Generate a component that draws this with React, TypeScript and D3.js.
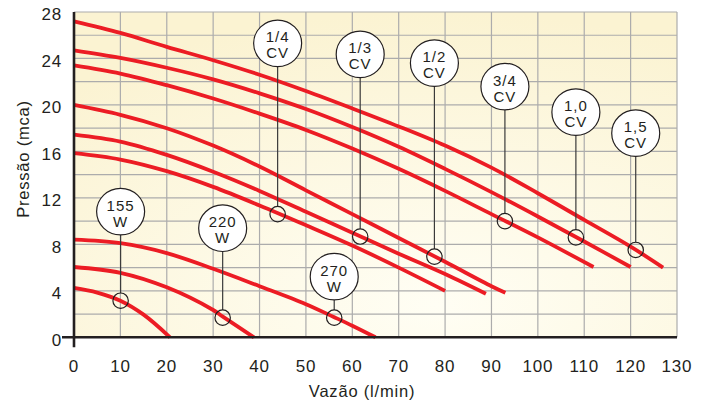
import React from "react";
import * as d3 from "d3";

// ---- data ----
const xTicks = [0, 10, 20, 30, 40, 50, 60, 70, 80, 90, 100, 110, 120, 130];
const yTicks = [0, 4, 8, 12, 16, 20, 24, 28];

const curve15CV: [number, number][] = [[0, 27.2], [10, 26.2], [20, 25.0], [30, 23.85], [40, 22.6], [50, 21.2], [60, 19.7], [70, 18.15], [80, 16.5], [90, 14.6], [100, 12.4], [110, 10.1], [120, 7.8], [127, 6.0]];
const curve10CV: [number, number][] = [[0, 24.7], [10, 24.05], [20, 23.2], [30, 22.2], [40, 21.0], [50, 19.65], [60, 18.1], [70, 16.4], [80, 14.5], [90, 12.5], [100, 10.4], [110, 8.25], [120, 6.05]];
const curve34CV: [number, number][] = [[0, 23.4], [10, 22.7], [20, 21.7], [30, 20.55], [40, 19.25], [50, 17.85], [60, 16.25], [70, 14.5], [80, 12.6], [90, 10.6], [100, 8.6], [112, 6.05]];
const curve12CV: [number, number][] = [[0, 20.0], [10, 19.15], [20, 18.0], [30, 16.5], [40, 14.7], [50, 12.65], [60, 10.6], [70, 8.55], [80, 6.5], [90, 4.4], [93, 3.84]];
const curve13CV: [number, number][] = [[0, 17.45], [10, 16.85], [20, 15.7], [30, 14.25], [40, 12.6], [50, 10.8], [60, 9.0], [70, 7.2], [80, 5.45], [88.8, 3.75]];
const curve14CV: [number, number][] = [[0, 15.85], [10, 15.3], [20, 14.3], [30, 12.95], [40, 11.35], [50, 9.65], [60, 7.9], [70, 6.0], [80, 4.0]];
const curve270W: [number, number][] = [[0, 8.4], [10, 8.1], [20, 7.25], [30, 5.9], [40, 4.4], [50, 2.85], [56, 1.75], [60, 1.0], [65, 0]];
const curve220W: [number, number][] = [[0, 6.05], [10, 5.55], [20, 4.3], [30, 2.35], [32, 1.8], [38.8, 0]];
const curve155W: [number, number][] = [[0, 4.25], [5, 3.85], [10, 3.15], [15, 1.95], [20.7, 0]];

const curves = [curve15CV, curve10CV, curve34CV, curve12CV, curve13CV, curve14CV, curve270W, curve220W, curve155W];

// label text lines, marker position and label centre (data units)
const labelTop = ["155", "220", "270", "1/4", "1/3", "1/2", "3/4", "1,0", "1,5"];
const labelBottom = ["W", "W", "W", "CV", "CV", "CV", "CV", "CV", "CV"];
const markerX = [10.05, 32.05, 56.1, 43.9, 61.7, 77.7, 92.9, 108.2, 121.1];
const markerY = [3.15, 1.69, 1.69, 10.6, 8.67, 6.94, 10.0, 8.6, 7.52];
const labelY = [10.82, 9.39, 5.22, 25.3, 24.35, 23.6, 21.58, 19.38, 17.57];

const xTitle = "Vazão (l/min)";
const yTitle = "Pressão (mca)";

export default function App() {
  const W = 710, H = 401;
  const x = d3.scaleLinear().domain([0, 130]).range([74, 677]);
  const y = d3.scaleLinear().domain([0, 28]).range([337.3, 12]);
  const line = d3.line<[number, number]>().x(d => x(d[0])).y(d => y(d[1])).curve(d3.curveCatmullRom.alpha(0.5));
  const xGrid = d3.range(0, 131, 10);
  const yGrid = d3.range(0, 29, 2);
  const font = "'Liberation Sans', Arial, Helvetica, sans-serif";
  const ink = "#231f20";
  const rx = 24, ry = 23.3, mr = 7.7;

  return (
    <svg width={W} height={H} style={{ position: "absolute", left: 0, top: 0, display: "block", background: "#fff" }} fontFamily={font}>
      <defs>
        <radialGradient id="bg" cx="0.6" cy="0.9" r="0.9">
          <stop offset="0" stopColor="#fffef4" />
          <stop offset="1" stopColor="#fbf3d2" />
        </radialGradient>
      </defs>
      <rect x={x(0)} y={y(28)} width={x(130) - x(0)} height={y(0) - y(28)} fill="url(#bg)" />
      {yGrid.map(v => (
        <line key={"gy" + v} x1={x(0)} x2={x(130)} y1={y(v)} y2={y(v)} stroke="#acacac" strokeWidth={1.2} />
      ))}
      {xGrid.map(v => (
        <line key={"gx" + v} x1={x(v)} x2={x(v)} y1={y(0)} y2={y(28)} stroke="#acacac" strokeWidth={1.2} />
      ))}
      {curves.map((c, i) => (
        <path key={"c" + i} d={line(c) || ""} fill="none" stroke="#ec1c24" strokeWidth={3.8} strokeLinecap="butt" />
      ))}
      {labelTop.map((t, i) => {
        const cx = x(markerX[i]);
        const cy = y(labelY[i]);
        const my = y(markerY[i]);
        return (
          <g key={"l" + i}>
            <line x1={cx} x2={cx} y1={cy + ry} y2={my - mr} stroke="#3a3a3a" strokeWidth={1.2} />
            <circle cx={cx} cy={my} r={mr} fill="none" stroke={ink} strokeWidth={1.2} />
            <ellipse cx={cx} cy={cy} rx={rx} ry={ry} fill="#fff" stroke={ink} strokeWidth={1.2} />
            <text x={cx} y={cy - 1} textAnchor="middle" fontSize={15} fill={ink} letterSpacing={1}>{t}</text>
            <text x={cx} y={cy + 15} textAnchor="middle" fontSize={15} fill={ink} letterSpacing={1}>{labelBottom[i]}</text>
          </g>
        );
      })}
      <line x1={x(0)} x2={x(0)} y1={y(28)} y2={y(0) + 10} stroke={ink} strokeWidth={2.6} />
      <line x1={x(0) - 12} x2={x(130)} y1={y(0)} y2={y(0)} stroke={ink} strokeWidth={2.6} />
      {yTicks.map(v => (
        <text key={"yt" + v} x={62} y={y(v) + 8.4} textAnchor="end" fontSize={17} fill={ink} letterSpacing={0.8}>{v}</text>
      ))}
      {xTicks.map(v => (
        <text key={"xt" + v} x={x(v)} y={371.5} textAnchor="middle" fontSize={17} fill={ink} letterSpacing={0.8}>{v}</text>
      ))}
      <text x={362} y={396.5} textAnchor="middle" fontSize={16.5} fill={ink} letterSpacing={0.8}>{xTitle}</text>
      <text transform="translate(28.5,159) rotate(-90)" textAnchor="middle" fontSize={16.5} fill={ink} letterSpacing={0.8}>{yTitle}</text>
    </svg>
  );
}
